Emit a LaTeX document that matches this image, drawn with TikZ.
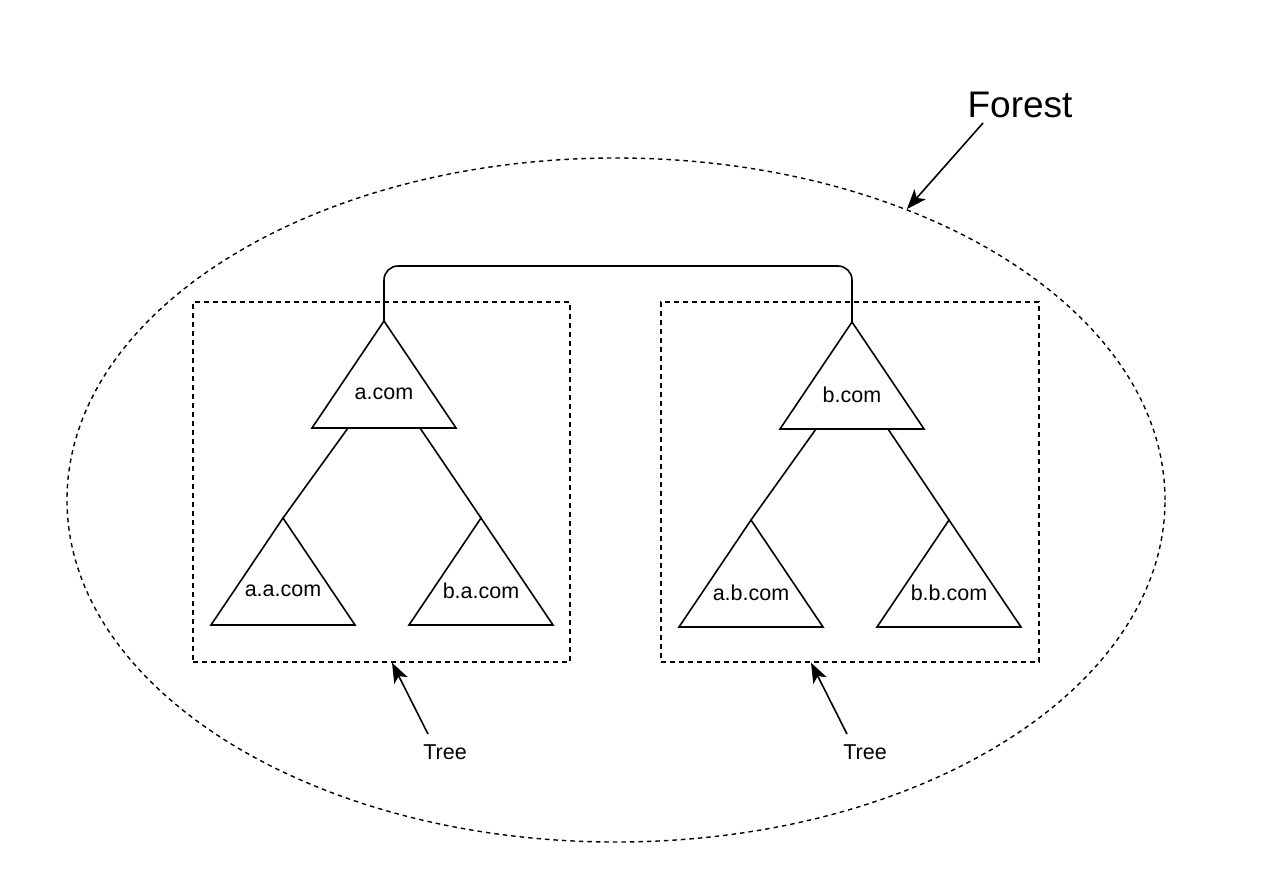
\documentclass[tikz,border=0pt]{standalone}
\usepackage{fontspec}
\setmainfont{Liberation Sans}
\usetikzlibrary{calc,shapes.geometric,arrows.meta}
\newcommand{\dtri}[4]{%
  \coordinate (#1-top) at (#2,#3);
  \coordinate (#1-bl) at ($(#1-top)+(-72,107)$);
  \coordinate (#1-br) at ($(#1-top)+(72,107)$);
  \coordinate (#1-bL) at ($(#1-top)+(-36,107)$);
  \coordinate (#1-bR) at ($(#1-top)+(36,107)$);
  \draw[tri] (#1-top) -- (#1-bl) -- (#1-br) -- cycle;
  \node[lab] (#1) at ($(#1-top)+(0,73)$) {#4};
}
\begin{document}
\begin{tikzpicture}[x=1pt,y=-1pt,
  tri/.style={line width=1.6pt,line join=miter},
  lab/.style={font=\fontsize{21.5}{25}\selectfont,inner sep=0pt},
  edge/.style={line width=1.6pt},
  dbox/.style={draw,line width=1.4pt,dash pattern=on 5pt off 4pt,minimum height=360pt,inner sep=0pt},
  forestshape/.style={draw,ellipse,line width=1.4pt,dash pattern=on 4.5pt off 4pt,minimum width=1098pt,minimum height=684pt,inner sep=0pt},
  arr/.style={line width=1.6pt,-{Stealth[length=20pt,width=15pt,inset=5pt]}},
  bigl/.style={font=\fontsize{37}{42}\selectfont,inner sep=0pt},
]
\useasboundingbox (0,0) rectangle (1271,872);
\node[forestshape] (forest) at (616,500) {};
\node[dbox,minimum width=377pt] (box1) at (381.5,482) {};
\node[dbox,minimum width=378pt] (box2) at (850,482) {};

\dtri{acom}{384}{321}{a.com}
\dtri{aacom}{283}{518}{a.a.com}
\dtri{bacom}{481}{518}{b.a.com}
\dtri{bcom}{852}{322}{b.com}
\dtri{abcom}{751}{520}{a.b.com}
\dtri{bbcom}{949}{520}{b.b.com}

\draw[edge] (acom-bL) -- (aacom-top);
\draw[edge] (acom-bR) -- (bacom-top);
\draw[edge] (bcom-bL) -- (abcom-top);
\draw[edge] (bcom-bR) -- (bbcom-top);
\draw[edge,rounded corners=14pt] (acom-top) -- (384,266) -| (bcom-top);

\node[bigl] (forestlbl) at (1020,105) {Forest};
\coordinate (ftail) at (983,123);
\draw[arr] (ftail) -- (forest.45);

\node[lab] (tree1) at (445,752) {Tree};
\node[lab] (tree2) at (865,752) {Tree};
\coordinate (t1tail) at (428,734);
\coordinate (t2tail) at (847,734);
\draw[arr] (t1tail) -- ($(box1.south)+(10.5,0)$);
\draw[arr] (t2tail) -- ($(box2.south)+(-39,0)$);
\end{tikzpicture}
\end{document}
